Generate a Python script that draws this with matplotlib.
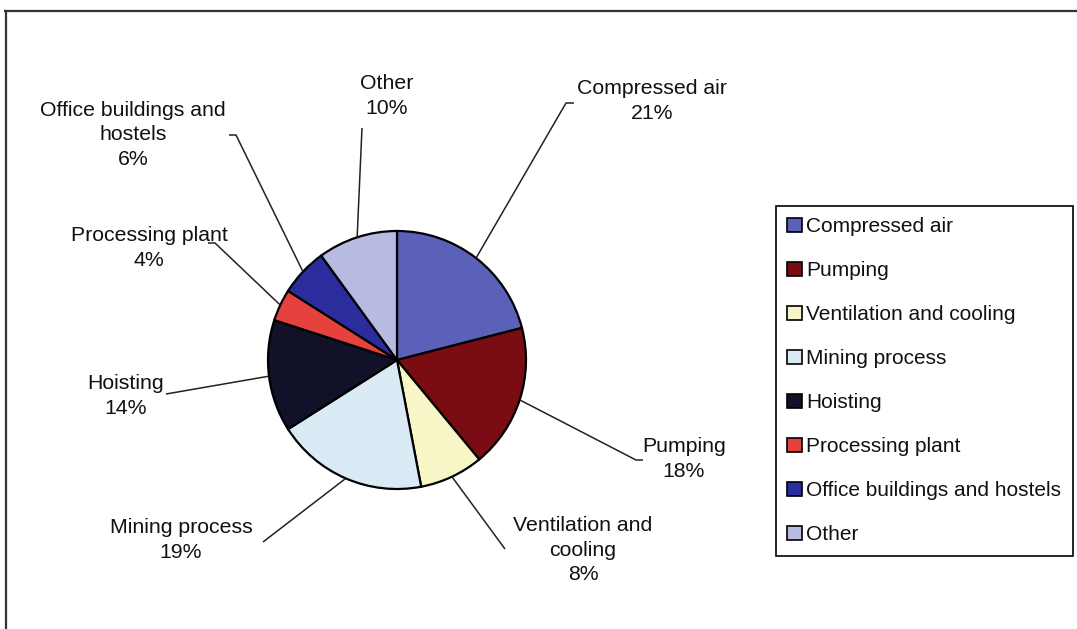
import matplotlib
matplotlib.use("Agg")
import matplotlib.pyplot as plt
from matplotlib.patches import Patch
import numpy as np

plt.rcParams['font.family'] = ['Liberation Sans', 'DejaVu Sans']

# Electricity use by end-use category (percent)
categories = ["Compressed air", "Pumping", "Ventilation and cooling", "Mining process",
              "Hoisting", "Processing plant", "Office buildings and hostels", "Other"]
shares = [21, 18, 8, 19, 14, 4, 6, 10]
colors = ["#5B60B8", "#7A0C14", "#F8F5C6", "#DAEAF5",
          "#12112A", "#E6423D", "#2B2C9E", "#B7BBE2"]

# Wrapped text used for the outside labels
label_text = ["Compressed air", "Pumping", "Ventilation and\ncooling", "Mining process",
              "Hoisting", "Processing plant", "Office buildings and\nhostels", "Other"]

# Layout (pixel space, y downward): label block centre, leader elbow, hook direction
label_pos = [(652, 101), (684, 459), (583, 550), (181, 540),
             (126, 396), (149, 248), (133, 135), (387, 96)]
elbow_pos = [(566, 103), (636, 460), (505, 549), (263, 542),
             (166, 394), (215, 243), (236, 135), (362, 128)]
hook = [8, 7, 0, 0, 0, -7, -7, 0]

W, H = 1077, 629
fig = plt.figure(figsize=(W / 100, H / 100), dpi=100)
ax = fig.add_axes([0, 0, 1, 1])

center = (397, 360)
radius = 129
wedges, _ = ax.pie(shares, colors=colors, startangle=270, counterclock=True,
                   center=center, radius=radius, frame=True,
                   wedgeprops=dict(edgecolor="black", linewidth=1.6))
ax.set_xlim(0, W)
ax.set_ylim(H, 0)
ax.set_aspect("equal")
ax.axis("off")

for w, txt, val, (lx, ly), (ex, ey), hk in zip(wedges, label_text, shares,
                                                label_pos, elbow_pos, hook):
    mid = np.deg2rad((w.theta1 + w.theta2) / 2)
    sx = center[0] + radius * np.cos(mid)
    sy = center[1] + radius * np.sin(mid)
    xs = [sx, ex, ex + hk]
    ys = [sy, ey, ey]
    ax.plot(xs, ys, color="#222222", linewidth=1.1, solid_capstyle="butt")
    ax.text(lx, ly, f"{txt}\n{val}%", ha="center", va="center",
            multialignment="center", fontsize=15.3, color="#111111", linespacing=1.38)

# Outer chart-area frame (top and left edges)
ax.plot([5, W], [11, 11], color="#333333", linewidth=1.6, clip_on=False)
ax.plot([6, 6], [11, H], color="#333333", linewidth=1.6, clip_on=False)

handles = [Patch(facecolor=c, edgecolor="black", linewidth=1.2) for c in colors]
leg = fig.legend(handles, categories, loc="upper left",
                 bbox_to_anchor=(776 / W, 1 - 206 / H), borderaxespad=0,
                 fontsize=15, frameon=True, fancybox=False, edgecolor="black",
                 framealpha=1, handlelength=0.7, handleheight=0.7,
                 handletextpad=0.2, labelspacing=1.2, borderpad=0.55)
leg.get_frame().set_linewidth(1.2)
for t in leg.get_texts():
    t.set_color("#111111")

fig.savefig("out.png", dpi=100)
